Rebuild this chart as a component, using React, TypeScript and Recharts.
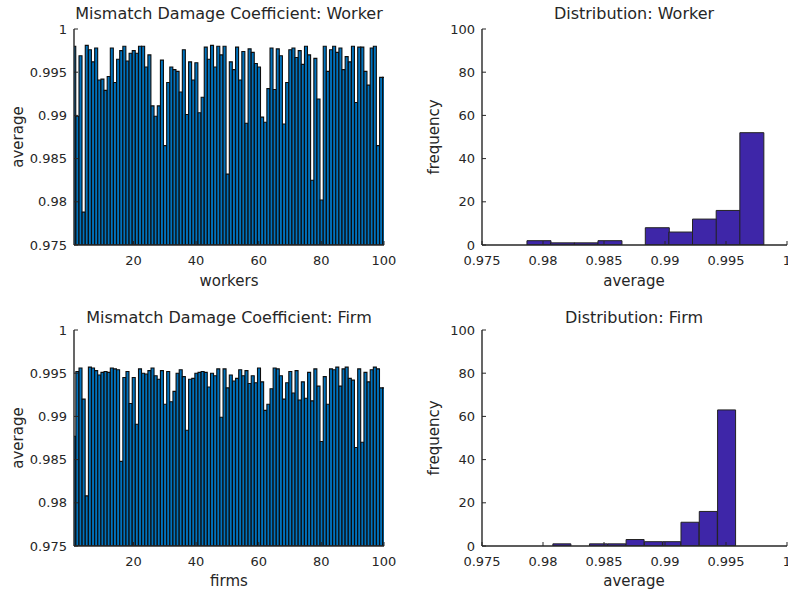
import { BarChart, Bar, XAxis, YAxis } from 'recharts'

// average mismatch damage coefficient per worker / firm
const workerAvg = [
  0.9980, 0.9899, 0.9969, 0.9788, 0.9981, 0.9976, 0.9962, 0.9978, 0.9941, 0.9942,
  0.9929, 0.9945, 0.9978, 0.9938, 0.9965, 0.9975, 0.9980, 0.9963, 0.9972, 0.9975,
  0.9972, 0.9980, 0.9980, 0.9956, 0.9970, 0.9911, 0.9899, 0.9911, 0.9964, 0.9865,
  0.9938, 0.9956, 0.9953, 0.9951, 0.9927, 0.9976, 0.9901, 0.9962, 0.9941, 0.9961,
  0.9903, 0.9921, 0.9979, 0.9965, 0.9981, 0.9956, 0.9980, 0.9970, 0.9980, 0.9832,
  0.9962, 0.9953, 0.9979, 0.9941, 0.9974, 0.9891, 0.9977, 0.9973, 0.9960, 0.9956,
  0.9898, 0.9892, 0.9931, 0.9978, 0.9930, 0.9977, 0.9969, 0.9890, 0.9938, 0.9976,
  0.9978, 0.9967, 0.9975, 0.9959, 0.9980, 0.9970, 0.9825, 0.9966, 0.9919, 0.9802,
  0.9980, 0.9951, 0.9976, 0.9980, 0.9973, 0.9978, 0.9953, 0.9968, 0.9962, 0.9980,
  0.9915, 0.9979, 0.9979, 0.9951, 0.9935, 0.9978, 0.9980, 0.9865, 0.9944, 0.9944,
]
const firmAvg = [
  0.9877, 0.9952, 0.9956, 0.9920, 0.9808, 0.9957, 0.9956, 0.9953, 0.9948, 0.9951,
  0.9952, 0.9951, 0.9956, 0.9955, 0.9954, 0.9848, 0.9945, 0.9952, 0.9915, 0.9945,
  0.9891, 0.9955, 0.9950, 0.9949, 0.9953, 0.9956, 0.9947, 0.9943, 0.9953, 0.9914,
  0.9952, 0.9917, 0.9929, 0.9950, 0.9954, 0.9946, 0.9884, 0.9943, 0.9944, 0.9950,
  0.9951, 0.9952, 0.9951, 0.9934, 0.9950, 0.9947, 0.9955, 0.9899, 0.9955, 0.9933,
  0.9948, 0.9941, 0.9944, 0.9954, 0.9947, 0.9953, 0.9938, 0.9947, 0.9939, 0.9956,
  0.9940, 0.9907, 0.9914, 0.9932, 0.9956, 0.9955, 0.9947, 0.9920, 0.9939, 0.9952,
  0.9927, 0.9953, 0.9919, 0.9940, 0.9921, 0.9951, 0.9918, 0.9955, 0.9935, 0.9871,
  0.9946, 0.9914, 0.9955, 0.9954, 0.9957, 0.9935, 0.9955, 0.9957, 0.9944, 0.9942,
  0.9864, 0.9955, 0.9870, 0.9951, 0.9940, 0.9954, 0.9957, 0.9955, 0.9933, 0.9933,
]

// histogram bins (centres) and counts as drawn
const workerBins = [0.97965, 0.98159, 0.98353, 0.98547, 0.98741, 0.98935, 0.99128, 0.99322, 0.99516, 0.9971]
const workerCounts = [2, 1, 1, 2, 0, 8, 6, 12, 16, 52]
const firmBins = [0.98156, 0.98306, 0.98456, 0.98606, 0.98756, 0.98906, 0.99056, 0.99206, 0.99356, 0.99506]
const firmCounts = [1, 0, 1, 1, 3, 2, 2, 11, 16, 63]

const avgTicks = [0.975, 0.98, 0.985, 0.99, 0.995, 1]
const idTicks = [20, 40, 60, 80, 100]
const freqTicks = [0, 20, 40, 60, 80, 100]

const AXIS = '#262626'
const FONT = "'DejaVu Sans', 'Noto Sans', sans-serif"
const BAR_BLUE = '#0072BD'
const HIST_PURPLE = '#3E26A8'

const workerRows = workerAvg.map((v, i) => ({ id: i + 1, v }))
const firmRows = firmAvg.map((v, i) => ({ id: i + 1, v }))
const workerHist = workerBins.map((b, i) => ({ id: b, v: workerCounts[i] }))
const firmHist = firmBins.map((b, i) => ({ id: b, v: firmCounts[i] }))

type PanelProps = {
  left: number; top: number; width: number; height: number
  margin: { top: number; right: number; bottom: number; left: number }
  data: { id: number; v: number }[]
  xDomain: [number, number]; xTicks: number[]
  yDomain: [number, number]; yTicks: number[]
  fill: string; stroke: string; strokeWidth: number; gap: string | number
}

const tickStyle = { fill: AXIS, fontSize: 13, fontFamily: FONT }
const axisLine = { stroke: AXIS, strokeWidth: 1.4 }
const tickLine = { stroke: AXIS, strokeWidth: 1 }

function Panel(p: PanelProps) {
  return (
    <div style={{ position: 'absolute', left: p.left, top: p.top }}>
      <BarChart width={p.width} height={p.height} data={p.data} margin={p.margin} barCategoryGap={p.gap}>
        <XAxis xAxisId="b" dataKey="id" type="number" domain={p.xDomain} allowDataOverflow ticks={p.xTicks}
          interval={0} height={30} tickSize={-4} tickMargin={15} axisLine={axisLine} tickLine={tickLine} tick={tickStyle} />
        <XAxis xAxisId="t" orientation="top" dataKey="id" type="number" domain={p.xDomain} allowDataOverflow ticks={p.xTicks}
          interval={0} height={0} tickSize={-4} axisLine={axisLine} tickLine={tickLine} tick={false} />
        <YAxis yAxisId="l" type="number" domain={p.yDomain} allowDataOverflow ticks={p.yTicks}
          interval={0} width={60} tickSize={-4} tickMargin={11} axisLine={axisLine} tickLine={tickLine} tick={tickStyle} />
        <YAxis yAxisId="r" orientation="right" type="number" domain={p.yDomain} allowDataOverflow ticks={p.yTicks}
          interval={0} width={0} tickSize={-4} axisLine={axisLine} tickLine={tickLine} tick={false} />
        <Bar xAxisId="b" yAxisId="l" dataKey="v" fill={p.fill} stroke={p.stroke} strokeWidth={p.strokeWidth} isAnimationActive={false} />
      </BarChart>
    </div>
  )
}

function Txt({ x, y, children, size = 15, rotate = false }: { x: number; y: number; children: string; size?: number; rotate?: boolean }) {
  return (
    <div style={{
      position: 'absolute', left: x, top: y, whiteSpace: 'nowrap', color: AXIS,
      fontFamily: FONT, fontSize: size, lineHeight: 1,
      transform: `translate(-50%, -50%)${rotate ? ' rotate(-90deg)' : ''}`,
    }}>{children}</div>
  )
}

export default function App() {
  const leftM = (top: number, bottom: number) => ({ top, right: 20, bottom, left: 14 })
  const rightM = (top: number, bottom: number) => ({ top, right: 1, bottom, left: 28 })
  return (
    <div style={{ position: 'fixed', left: 0, top: 0, width: 788, height: 591, background: '#fff', overflow: 'hidden' }}>
      <Panel left={0} top={0} width={404} height={295} margin={leftM(29, 20)} data={workerRows}
        xDomain={[1, 100]} xTicks={idTicks} yDomain={[0.975, 1]} yTicks={avgTicks}
        fill={BAR_BLUE} stroke="#0d0d0d" strokeWidth={1.1} gap="10%" />
      <Panel left={394} top={0} width={394} height={295} margin={rightM(29, 20)} data={workerHist}
        xDomain={[0.975, 1]} xTicks={avgTicks} yDomain={[0, 100]} yTicks={freqTicks}
        fill={HIST_PURPLE} stroke="#222" strokeWidth={1} gap={0} />
      <Panel left={0} top={295} width={404} height={296} margin={leftM(35, 15)} data={firmRows}
        xDomain={[1, 100]} xTicks={idTicks} yDomain={[0.975, 1]} yTicks={avgTicks}
        fill={BAR_BLUE} stroke="#0d0d0d" strokeWidth={1.1} gap="10%" />
      <Panel left={394} top={295} width={394} height={296} margin={rightM(35, 15)} data={firmHist}
        xDomain={[0.975, 1]} xTicks={avgTicks} yDomain={[0, 100]} yTicks={freqTicks}
        fill={HIST_PURPLE} stroke="#222" strokeWidth={1} gap={0} />

      <Txt x={229} y={14} size={16}>Mismatch Damage Coefficient: Worker</Txt>
      <Txt x={634} y={14} size={16}>Distribution: Worker</Txt>
      <Txt x={229} y={318} size={16}>Mismatch Damage Coefficient: Firm</Txt>
      <Txt x={634} y={318} size={16}>Distribution: Firm</Txt>

      <Txt x={229} y={281}>workers</Txt>
      <Txt x={634} y={281}>average</Txt>
      <Txt x={229} y={581}>firms</Txt>
      <Txt x={634} y={581}>average</Txt>

      <Txt x={18} y={137} rotate>average</Txt>
      <Txt x={434} y={137} rotate>frequency</Txt>
      <Txt x={18} y={438} rotate>average</Txt>
      <Txt x={434} y={438} rotate>frequency</Txt>
    </div>
  )
}
